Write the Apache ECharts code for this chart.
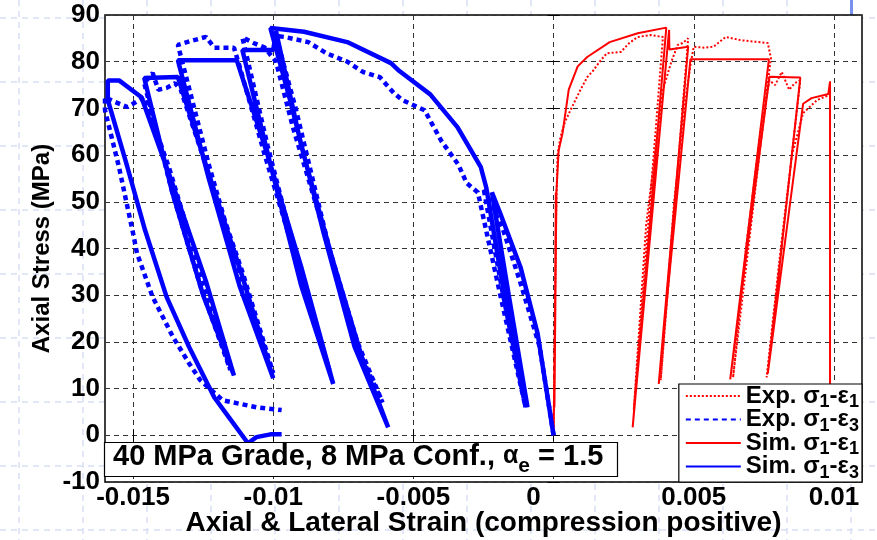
<!DOCTYPE html>
<html>
<head>
<meta charset="utf-8">
<script src="https://cdn.jsdelivr.net/npm/echarts@6/dist/echarts.min.js"></script>
<style>html,body{margin:0;padding:0;background:#fff}#c{width:877px;height:540px}</style>
</head>
<body>
<div id="c"></div>
<script>
// ---- data (strain, stress MPa) ----
var xTicks = [-0.015, -0.01, -0.005, 0, 0.005, 0.01];
var yTicks = [-10, 0, 10, 20, 30, 40, 50, 60, 70, 80, 90];
var legendNames = ['Exp. σ1-ε1', 'Exp. σ1-ε3', 'Sim. σ1-ε1', 'Sim. σ1-ε3'];
var noteText = ['40 MPa Grade, 8 MPa Conf., ', 'α', 'e', ' = 1.5'];

var expAxial = [
  [0,0],[0.00005,30],[0.0001,50],[0.00014,60],[0.00025,64],[0.0004,67],[0.0006,69.6],[0.00096,74],
  [0.0012,76.7],[0.0014,78],[0.00168,80.3],[0.0019,81.8],[0.0024,82.1],[0.0027,84],[0.003,85.3],
  [0.00346,85.7],[0.0039,85.3],
  [0.00286,5.4],
  [0.0033,45],[0.0039,74],[0.0042,80],[0.00443,83.6],[0.0046,84],[0.0048,85],
  [0.00382,11.8],
  [0.0043,50],[0.0047,72],[0.0049,80],[0.005,83.2],[0.0054,83],[0.0057,83.2],[0.00614,85.3],
  [0.00668,84.6],[0.00764,84],[0.00775,80.8],
  [0.0064,12.4],
  [0.0069,42],[0.0074,66],[0.0077,76],[0.0079,75],[0.00814,77.8],[0.0084,74],[0.0086,75.4],[0.0088,76],
  [0.0076,12.4],
  [0.0081,40],[0.0085,60],[0.0089,69],[0.0094,71.8],[0.0098,72.8]
];

var expLateral = [
  [0,0],[-0.0005,19],[-0.0012,33],[-0.0018,44],[-0.0025,53],[-0.0018,30],[-0.001,6],[-0.0019,30],
  [-0.0027,52],[-0.0031,54],[-0.0034,58],[-0.004,63],[-0.0046,69.6],[-0.0054,71.8],[-0.0057,73.3],
  [-0.0062,76.7],[-0.0068,77.8],[-0.00736,80],[-0.0081,81.8],[-0.00875,84.2],[-0.0096,85.3],[-0.0099,85.5],
  [-0.0092,70],[-0.008,40],[-0.0071,20],[-0.0061,7],
  [-0.007,20],[-0.0081,42],[-0.0093,66],[-0.0099,80],[-0.0103,83],[-0.0107,84],[-0.0111,85.2],
  [-0.0102,62],[-0.009,34],[-0.008,14],
  [-0.0091,36],[-0.0103,60],[-0.0112,79],[-0.0114,83],[-0.0121,83],[-0.0124,85.3],[-0.0129,84.5],[-0.0134,83.6],
  [-0.0123,58],[-0.0111,33],[-0.01,13.3],
  [-0.0111,35],[-0.0123,56],[-0.0133,74],[-0.0135,75.4],[-0.0138,74.4],[-0.0141,74],[-0.0143,77.6],[-0.0146,75.4],
  [-0.0136,52],[-0.0126,32],[-0.01153,14],
  [-0.0126,35],[-0.0137,57],[-0.0146,72.4],[-0.0152,70.3],[-0.0157,71.5],[-0.016,72.4],
  [-0.016,69.6],[-0.0155,57.4],[-0.015,43.3],[-0.01486,39],[-0.0143,29.6],[-0.01357,21],[-0.013,15.4],
  [-0.0126,11.8],[-0.0118,7.5],[-0.0106,6],[-0.0097,5.4]
];

var simAxial = [
  [0,0],[0.00006,30],[0.00008,52],[0.00003,6],[0.0001,52],[0.00018,61],[0.00032,64.7],[0.00054,74],
  [0.00086,79],[0.0012,81],[0.002,84.2],[0.003,86.1],[0.00402,87.3],
  [0.00282,1.7],
  [0.00412,86.8],[0.00413,82.6],[0.0048,83.2],
  [0.00375,11],
  [0.00488,80.5],[0.00768,80.5],
  [0.0063,12],
  [0.0077,76.8],[0.0088,76.6],
  [0.00764,13.2],
  [0.0089,71],[0.0092,72.2],[0.0098,73.1],[0.00986,75.8],[0.00986,0]
];

var simLateral = [
  [0,0],[-0.00057,21.8],[-0.00118,36],[-0.0019,47.5],[-0.0022,52],[-0.0016,30],[-0.00093,6],[-0.0017,28],
  [-0.0024,53],[-0.0026,57.5],[-0.00343,66],[-0.0044,73],[-0.0055,78],[-0.0058,79.7],[-0.00736,84.2],
  [-0.0089,86.4],[-0.0101,87.2],
  [-0.0094,71.8],[-0.0082,43.3],[-0.0071,19],[-0.0059,1.7],
  [-0.0068,16],[-0.0079,38],[-0.009,62],[-0.0099,86.5],[-0.01,82.5],[-0.0111,82.5],
  [-0.0101,58],[-0.009,32],[-0.00786,11],
  [-0.009,36],[-0.0102,60],[-0.0113,80.3],[-0.0134,80.3],
  [-0.0123,55],[-0.0112,32],[-0.01,12.2],
  [-0.0111,34],[-0.0123,56],[-0.0134,76.7],[-0.0146,76.5],
  [-0.0136,52],[-0.0125,30],[-0.0114,12.8],
  [-0.0124,33],[-0.0136,54],[-0.0147,72.4],[-0.0155,76],[-0.0159,76],[-0.0159,71.8],
  [-0.0152,57.4],[-0.01457,43.9],[-0.0138,29.6],[-0.013,18.9],[-0.0121,8.1],[-0.0115,3.2],
  [-0.0109,-1.7],[-0.0106,-0.4],[-0.0101,0.2],[-0.0097,0.2]
];

// ---- chart ----
var FONT = '"Liberation Sans", Arial, sans-serif';
var chart = echarts.init(document.getElementById('c'), null, {renderer: 'canvas'});

function subRich(name) {
  return '{a|' + name.replace(/([σε])(\d)/g, '$1}{s|$2}{a|') + '}';
}

var bgEls = [];
for (var k = 0; k < 14; k++) {
  bgEls.push({type: 'line', z: -5, silent: true,
    shape: {x1: 19 + 64 * k, y1: 0, x2: 19 + 64 * k, y2: 540},
    style: {stroke: '#d7dff5', lineWidth: 1.5, lineDash: [6, 5]}});
}
for (var j = 0; j < 9; j++) {
  bgEls.push({type: 'line', z: -5, silent: true,
    shape: {x1: 0, y1: 18 + 64 * j, x2: 877, y2: 18 + 64 * j},
    style: {stroke: '#d7dff5', lineWidth: 1.5, lineDash: [6, 5]}});
}
bgEls.push({type: 'rect', z: -4, silent: true, shape: {x: 850, y: 0, width: 3, height: 15},
  style: {fill: '#7890f0'}});

var gridLineStyle = {color: '#333', width: 1, type: [5, 4]};

var option = {
  animation: false,
  backgroundColor: '#fff',
  graphic: {elements: bgEls},
  grid: {left: 105, right: 15, top: 15, bottom: 58, show: true, backgroundColor: '#fff',
    borderColor: '#000', borderWidth: 1.5, z: 0, containLabel: false, outerBoundsMode: 'none'},
  title: {
    text: '{a|' + noteText[0] + '}{g|' + noteText[1] + '}{s|' + noteText[2] + '}{a|' + noteText[3] + '}',
    left: 104, top: 444,
    padding: [0, 14, 0, 9],
    backgroundColor: '#fff', borderColor: '#000', borderWidth: 1.2,
    textStyle: {
      fontFamily: FONT, fontWeight: 'bold', fontSize: 29, color: '#000', lineHeight: 25,
      rich: {
        a: {fontFamily: FONT, fontWeight: 'bold', fontSize: 29, color: '#000', lineHeight: 25},
        g: {fontFamily: FONT, fontWeight: 'bold', fontSize: 25, color: '#000', lineHeight: 25},
        s: {fontFamily: FONT, fontWeight: 'bold', fontSize: 21, color: '#000', lineHeight: 25,
            height: 6, verticalAlign: 'bottom'}
      }
    }
  },
  legend: {
    data: legendNames,
    orient: 'vertical',
    right: 15, bottom: 58,
    padding: [0, 3, 0, 6],
    itemGap: -4,
    itemWidth: 55, itemHeight: 14,
    itemStyle: {opacity: 0},
    backgroundColor: '#fff', borderColor: '#000', borderWidth: 1.2,
    formatter: subRich,
    textStyle: {
      fontFamily: FONT, fontWeight: 'bold', fontSize: 24, color: '#000', lineHeight: 22,
      rich: {
        a: {fontFamily: FONT, fontWeight: 'bold', fontSize: 24, color: '#000', lineHeight: 22},
        s: {fontFamily: FONT, fontWeight: 'bold', fontSize: 18, color: '#000', lineHeight: 22,
            height: 9, verticalAlign: 'bottom'}
      }
    }
  },
  xAxis: [{
    type: 'value', min: -0.016, max: 0.011,
    axisLine: {show: false},
    axisTick: {show: true, inside: true, length: 6, lineStyle: {color: '#000', width: 1}, customValues: xTicks},
    axisLabel: {
      customValues: xTicks, margin: 3,
      fontFamily: FONT, fontWeight: 'bold', fontSize: 26, color: '#000',
      formatter: function (v) { return Math.abs(v) < 1e-12 ? '{z|0}' : String(+v.toFixed(3)); },
      rich: {z: {fontFamily: FONT, fontWeight: 'bold', fontSize: 26, color: '#000', padding: [0, 40, 0, 0]}}
    },
    splitLine: {show: true, lineStyle: gridLineStyle},
    name: 'Axial & Lateral Strain (compression positive)',
    nameLocation: 'middle', nameGap: 27, nameMoveOverlap: false,
    nameTextStyle: {fontFamily: FONT, fontWeight: 'bold', fontSize: 28, color: '#000', verticalAlign: 'top'}
  }, {
    type: 'value', position: 'top', min: -0.016, max: 0.011,
    axisLine: {show: false},
    axisTick: {show: true, inside: true, length: 6, lineStyle: {color: '#000'}, customValues: xTicks},
    axisLabel: {show: false, customValues: xTicks},
    splitLine: {show: false}
  }],
  yAxis: [{
    type: 'value', min: -10, max: 90, interval: 10,
    axisLine: {show: false},
    axisTick: {show: true, inside: true, length: 6, lineStyle: {color: '#000'}},
    axisLabel: {margin: 5, fontFamily: FONT, fontWeight: 'bold', fontSize: 26, color: '#000'},
    splitLine: {show: true, lineStyle: gridLineStyle},
    name: 'Axial Stress (MPa)',
    nameLocation: 'middle', nameGap: 51, nameMoveOverlap: false,
    nameTextStyle: {fontFamily: FONT, fontWeight: 'bold', fontSize: 24, color: '#000'}
  }, {
    type: 'value', position: 'right', min: -10, max: 90, interval: 10,
    axisLine: {show: false},
    axisTick: {show: true, inside: true, length: 6, lineStyle: {color: '#000'}},
    axisLabel: {show: false},
    splitLine: {show: false}
  }],
  series: [
    {name: legendNames[0], type: 'line', data: expAxial, showSymbol: false, symbol: 'none',
      lineStyle: {color: '#ff0000', width: 2, type: [2, 2]}, itemStyle: {color: '#ff0000'}, z: 2},
    {name: legendNames[1], type: 'line', data: expLateral, showSymbol: false, symbol: 'none',
      lineStyle: {color: '#0000ff', width: 4.5, type: [5, 4]}, itemStyle: {color: '#0000ff'}, z: 2},
    {name: legendNames[2], type: 'line', data: simAxial, showSymbol: false, symbol: 'none',
      lineStyle: {color: '#ff0000', width: 2}, itemStyle: {color: '#ff0000'}, z: 3},
    {name: legendNames[3], type: 'line', data: simLateral, showSymbol: false, symbol: 'none',
      lineStyle: {color: '#0000ff', width: 4.5}, itemStyle: {color: '#0000ff'}, z: 3}
  ]
};
chart.setOption(option);
</script>
</body>
</html>
